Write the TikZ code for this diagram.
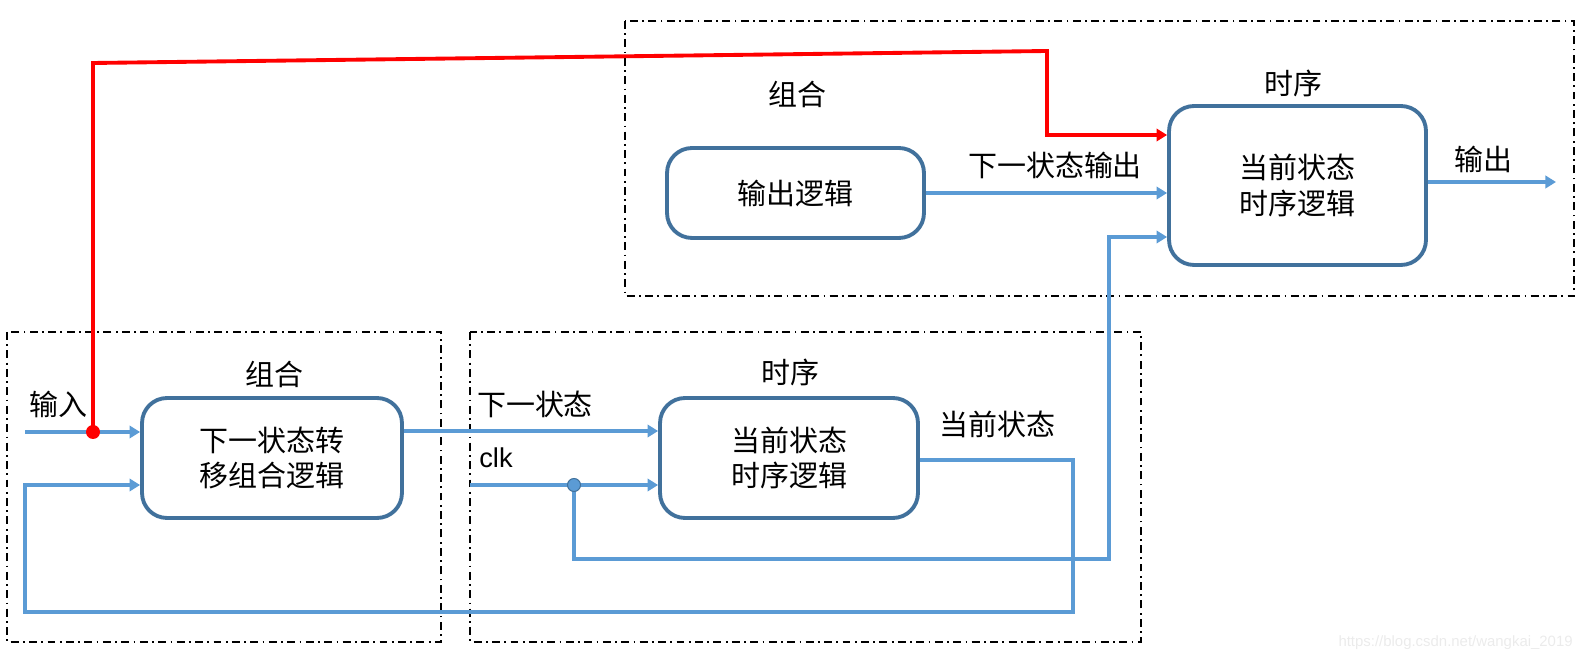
\documentclass[tikz,border=0pt]{standalone}
\usepackage{fontspec}
\setmainfont{Liberation Sans}
\newfontfamily\cjk{Noto Sans CJK SC}
\usetikzlibrary{arrows.meta, positioning}
\definecolor{boxblue}{RGB}{65, 113, 156}
\definecolor{lineblue}{RGB}{91, 155, 213}
\definecolor{markred}{RGB}{255, 0, 0}

\begin{document}
\begin{tikzpicture}[
        x=0.02cm, y=-0.02cm,
        lbl/.style={font=\cjk\fontsize{16.5}{20}\selectfont, inner sep=0pt},
        logic/.style={draw=boxblue, line width=2.2pt, rounded corners=0.5cm, fill=white, align=center, font=\cjk\fontsize{16.5}{20}\selectfont},
        frame/.style={draw=black, line width=0.8pt, dash pattern=on 4.5pt off 2.5pt on 1pt off 2.5pt},
        flow/.style={draw=lineblue, line width=2.2pt, -{Triangle[length=6pt, width=7pt]}},
        redflow/.style={draw=markred, line width=2.2pt, -{Triangle[length=6pt, width=7pt]}},
        tapdot/.style={circle, fill=markred, inner sep=0pt, minimum size=0.28cm},
        clkdot/.style={circle, fill=lineblue, draw=boxblue, line width=0.6pt, inner sep=0pt, minimum size=0.26cm},
    ]
    \useasboundingbox (0,0) rectangle (1584,661);

    % Rahmen
    \draw[frame] (7,332) rectangle (441,642);
    \draw[frame] (470,332) rectangle (1141,642);
    \draw[frame] (625,21) rectangle (1574,296);

    % Logikbloecke
    \node[logic, minimum width=5.2cm, minimum height=2.4cm] (nsl) at (272,458) {下一状态转\\移组合逻辑};
    \node[logic, minimum width=5.16cm, minimum height=2.4cm] (csl) at (789,458) {当前状态\\时序逻辑};
    \node[logic, minimum width=5.14cm, minimum height=1.8cm] (outl) at (795.5,193) {输出逻辑};
    \node[logic, minimum width=5.14cm, minimum height=3.18cm] (ocs) at (1297.5,185.5) {当前状态\\时序逻辑};

    % Beschriftungen
    \node[lbl] (comb-low) at (274,374) {组合};
    \node[lbl] (seq-low) at (790,372) {时序};
    \node[lbl] (comb-up) at (797,94) {组合};
    \node[lbl] (seq-up) at (1293,83) {时序};
    \node[lbl] (inlbl) at (58,404) {输入};
    \node[lbl] (nslbl) at (535,404) {下一状态};
    \node[font=\fontsize{15.5}{18}\selectfont, inner sep=0pt] (clklbl) at (496,458) {clk};
    \node[lbl] (cslbl) at (997,424) {当前状态};
    \node[lbl] (nsolbl) at (1055,165) {下一状态输出};
    \node[lbl] (outlbl) at (1483,159) {输出};

    % Hilfspunkte
    \coordinate (in) at (25,432);
    \coordinate (tap) at (93,432);
    \coordinate (ns) at (0,431);
    \coordinate (clkin) at (470,485);
    \coordinate (clk) at (574,485);
    \coordinate (cs) at (1109,559);
    \coordinate (cin) at (0,237);
    \coordinate (cy) at (0,460);
    \coordinate (fb) at (1073,612);
    \coordinate (fbin) at (25,485);
    \coordinate (out) at (1556,182);
    \coordinate (r1) at (93,63);
    \coordinate (r2) at (1047,51);
    \coordinate (r3) at (0,135);

    % Verbindungen
    \draw[flow] (in) -- (in -| nsl.west);
    \draw[flow] (nsl.east |- ns) -- (csl.west |- ns);
    \draw[flow] (clkin) -- (clkin -| csl.west);
    \draw[flow] (clk) |- (cs) |- (ocs.west |- cin);
    \draw[flow] (csl.east |- cy) -| (fb) -| (fbin) -- (fbin -| nsl.west);
    \draw[flow] (outl.east) -- (ocs.west |- outl.east);
    \draw[flow] (ocs.east |- out) -- (out);
    \draw[redflow] (tap) -- (r1) -- (r2) |- (ocs.west |- r3);

    % Abzweigpunkte
    \node[tapdot] (tapmark) at (tap) {};
    \node[clkdot] (clkmark) at (clk) {};

    \node[font=\fontsize{8.5}{10}\selectfont, text=black!8, anchor=east, inner sep=0pt] (wm) at (1573,643) {https://blog.csdn.net/wangkai\_2019};
\end{tikzpicture}
\end{document}
